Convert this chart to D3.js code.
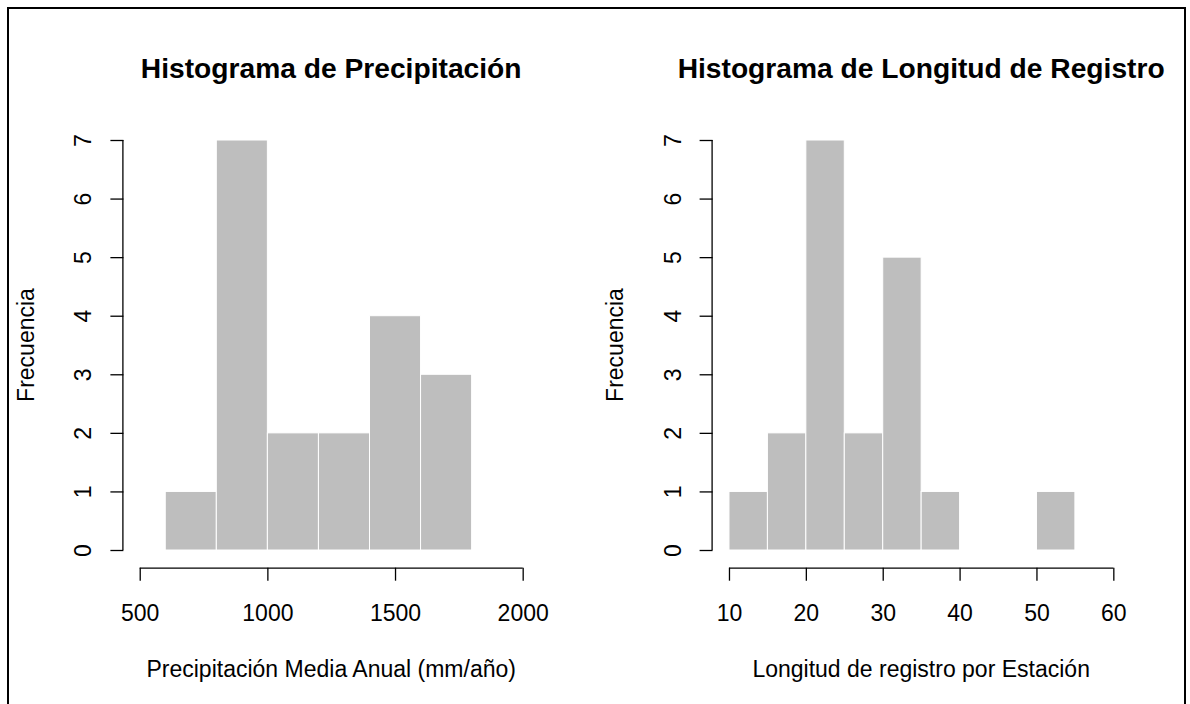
<!DOCTYPE html>
<html>
<head>
<meta charset="utf-8">
<script src="https://cdn.jsdelivr.net/npm/d3@7"></script>
<style>
  html, body { margin: 0; padding: 0; background: #fff; overflow: hidden; }
  svg { display: block; font-family: "Liberation Sans", Arial, sans-serif; }
</style>
</head>
<body>
<svg id="chart" width="1190" height="704"></svg>
<script>
// ---- data ----
const precipBreaks = [600, 800, 1000, 1200, 1400, 1600, 1800];
const precipCounts = [1, 7, 2, 2, 4, 3];
const precipTicks = [500, 1000, 1500, 2000];
const precipXlim = [500, 2000];

const lengthBreaks = [10, 15, 20, 25, 30, 35, 40, 45, 50, 55];
const lengthCounts = [1, 2, 7, 2, 5, 1, 0, 0, 1];
const lengthTicks = [10, 20, 30, 40, 50, 60];
const lengthXlim = [10, 60];

const freqTicks = [0, 1, 2, 3, 4, 5, 6, 7];
const freqYlim = [0, 7];

const titles = ["Histograma de Precipitación", "Histograma de Longitud de Registro"];
const xLabels = ["Precipitación Media Anual (mm/año)", "Longitud de registro por Estación"];
const yLabel = "Frecuencia";

// ---- layout ----
const svg = d3.select("#chart");
const baseFont = 23;
const titleFont = 28.2;
const plotTop = 123.6, plotBottom = 566.4;

svg.append("rect")
  .attr("x", 8).attr("y", 8).attr("width", 1177).attr("height", 720)
  .attr("fill", "none").attr("stroke", "#000").attr("stroke-width", 2);

function panel(left, right, breaks, counts, ticks, xlim, title, xlab) {
  const pad = (xlim[1] - xlim[0]) * 0.04;
  const x = d3.scaleLinear().domain([xlim[0] - pad, xlim[1] + pad]).range([left, right]);
  const ypad = (freqYlim[1] - freqYlim[0]) * 0.04;
  const y = d3.scaleLinear().domain([freqYlim[0] - ypad, freqYlim[1] + ypad]).range([plotBottom, plotTop]);

  const bins = counts.map((c, i) => ({x0: breaks[i], x1: breaks[i + 1], c}));
  const g = svg.append("g");

  g.selectAll("rect.bar").data(bins.filter(d => d.c > 0)).enter().append("rect")
    .attr("class", "bar")
    .attr("x", d => x(d.x0))
    .attr("width", d => x(d.x1) - x(d.x0))
    .attr("y", d => y(d.c))
    .attr("height", d => y(0) - y(d.c))
    .attr("fill", "#bebebe")
    .attr("stroke", "#ffffff")
    .attr("stroke-width", 1);

  // x axis
  const xAxisY = plotBottom + 1.3;
  const xa = g.append("g").attr("transform", `translate(0,${xAxisY})`)
    .call(d3.axisBottom(x).tickValues(ticks).tickSize(13).tickFormat(d3.format("d")));
  xa.select(".domain").remove();
  xa.append("line")
    .attr("x1", x(ticks[0])).attr("x2", x(ticks[ticks.length - 1]))
    .attr("y1", 0.5).attr("y2", 0.5)
    .attr("stroke", "#000").attr("stroke-width", 1.3);
  xa.selectAll(".tick line").attr("stroke", "#000").attr("stroke-width", 1.3);
  xa.selectAll(".tick text")
    .attr("y", 53.3).attr("dy", null)
    .attr("fill", "#000")
    .style("font-size", baseFont + "px")
    .style("font-family", "'Liberation Sans', Arial, sans-serif");

  // y axis
  const yAxisX = left - 1;
  const ya = g.append("g").attr("transform", `translate(${yAxisX},0)`)
    .call(d3.axisLeft(y).tickValues(freqTicks).tickSize(13).tickFormat(d3.format("d")));
  ya.select(".domain").remove();
  ya.append("line")
    .attr("x1", -0.5).attr("x2", -0.5)
    .attr("y1", y(freqTicks[0])).attr("y2", y(freqTicks[freqTicks.length - 1]))
    .attr("stroke", "#000").attr("stroke-width", 1.3);
  ya.selectAll(".tick line").attr("stroke", "#000").attr("stroke-width", 1.3);
  ya.selectAll(".tick text")
    .attr("transform", "rotate(-90)")
    .attr("x", 0).attr("y", -32).attr("dy", null)
    .attr("text-anchor", "middle")
    .attr("fill", "#000")
    .style("font-size", baseFont + "px")
    .style("font-family", "'Liberation Sans', Arial, sans-serif");

  // titles
  const cx = (left + right) / 2;
  g.append("text")
    .attr("x", cx).attr("y", 77.5)
    .attr("text-anchor", "middle")
    .style("font-size", titleFont + "px")
    .style("font-weight", "bold")
    .text(title);

  g.append("text")
    .attr("x", cx).attr("y", 677)
    .attr("text-anchor", "middle")
    .style("font-size", baseFont + "px")
    .text(xlab);

  g.append("text")
    .attr("transform", `translate(${left - 90.6},${(plotTop + plotBottom) / 2}) rotate(-90)`)
    .attr("text-anchor", "middle")
    .style("font-size", baseFont + "px")
    .text(yLabel);
}

panel(124.4, 538, precipBreaks, precipCounts, precipTicks, precipXlim, titles[0], xLabels[0]);
panel(713.6, 1128.7, lengthBreaks, lengthCounts, lengthTicks, lengthXlim, titles[1], xLabels[1]);
</script>
</body>
</html>
